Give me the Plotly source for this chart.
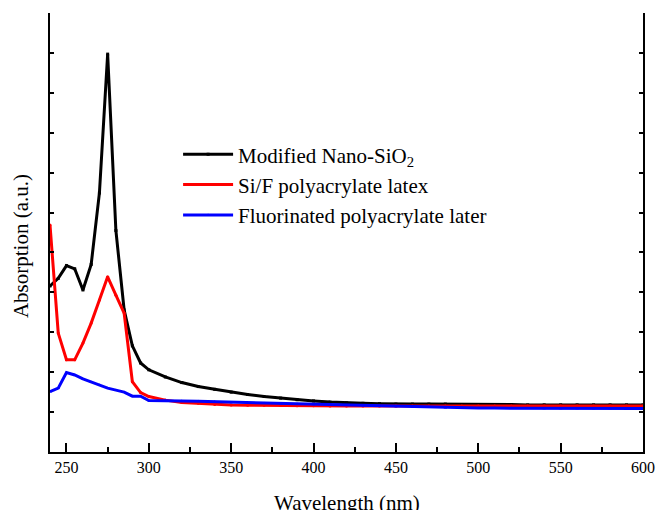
import plotly.graph_objects as go

wavelength = [240, 245, 250, 255, 260, 265, 270, 275, 280, 285, 290, 295, 300,
              310, 320, 330, 340, 350, 360, 370, 380, 390, 400, 410, 420, 430,
              440, 450, 460, 470, 480, 490, 500, 510, 520, 530, 540, 550, 560,
              570, 580, 590, 600]

nano_sio2 = [4.16, 4.35, 4.67, 4.59, 4.06, 4.70, 6.49, 9.97, 5.55, 3.56, 2.66, 2.23, 2.06,
             1.88, 1.74, 1.64, 1.57, 1.50, 1.44, 1.39, 1.35, 1.31, 1.28, 1.25, 1.23, 1.22,
             1.21, 1.20, 1.20, 1.20, 1.20, 1.19, 1.19, 1.19, 1.19, 1.18, 1.18, 1.18, 1.18,
             1.18, 1.18, 1.18, 1.18]

sif_latex = [5.69, 2.98, 2.31, 2.31, 2.73, 3.23, 3.81, 4.39, 3.93, 3.48, 1.76, 1.49, 1.39,
             1.30, 1.24, 1.22, 1.19, 1.18, 1.17, 1.17, 1.165, 1.16, 1.16, 1.155, 1.155, 1.15,
             1.15, 1.15, 1.15, 1.15, 1.15, 1.15, 1.15, 1.15, 1.15, 1.15, 1.15, 1.15, 1.15,
             1.15, 1.15, 1.15, 1.15]

fluor_latex = [1.51, 1.60, 1.99, 1.93, 1.83, 1.75, 1.68, 1.60, 1.55, 1.50, 1.40, 1.40, 1.29,
               1.29, 1.28, 1.27, 1.26, 1.24, 1.23, 1.22, 1.21, 1.20, 1.19, 1.18, 1.17, 1.16,
               1.15, 1.14, 1.13, 1.12, 1.11, 1.105, 1.10, 1.10, 1.10, 1.095, 1.09, 1.09, 1.09,
               1.09, 1.09, 1.09, 1.09]

names = ["Modified Nano-SiO<sub>2</sub>", "Si/F polyacrylate latex", "Fluorinated polyacrylate later"]
colors = ["#000000", "#ff0000", "#0000ff"]
symbols = ["square", "circle", "triangle-up"]
series = [nano_sio2, sif_latex, fluor_latex]

FONT = "Liberation Serif, Times New Roman, serif"

fig = go.Figure()
for name, col, sym, vals in zip(names, colors, symbols, series):
    fig.add_trace(go.Scatter(
        x=wavelength, y=vals, name=name, mode="lines+markers",
        line=dict(color=col, width=3),
        marker=dict(color=col, symbol=sym, size=3),
    ))

fig.update_layout(
    width=657, height=510, autosize=False,
    margin=dict(l=50, r=14, t=13, b=58),
    paper_bgcolor="white", plot_bgcolor="white",
    font=dict(family=FONT, color="black", size=16),
    showlegend=True,
    legend=dict(x=0.216, y=0.724, xanchor="left", yanchor="top",
                bgcolor="rgba(0,0,0,0)", font=dict(size=21, family=FONT),
                itemwidth=50, tracegroupgap=0),
    xaxis=dict(range=[240, 600], tickvals=[250, 300, 350, 400, 450, 500, 550, 600],
               ticks="inside", ticklen=9, tickwidth=1.5, tickcolor="black",
               minor=dict(tickvals=[275, 325, 375, 425, 475, 525, 575], ticks="inside",
                          ticklen=5, tickwidth=1.5, tickcolor="black"),
               showline=True, linecolor="black", linewidth=2, showgrid=False,
               zeroline=False, tickfont=dict(size=16, family=FONT), automargin=False),
    xaxis2=dict(range=[240, 600], overlaying="x", side="top",
                tickvals=[250, 275, 300, 325, 350, 375, 400, 425, 450, 475, 500, 525, 550, 575],
                ticks="inside", ticklen=3, tickwidth=1, tickcolor="black", automargin=False,
                showticklabels=False, showline=True, linecolor="black", linewidth=2,
                showgrid=False, zeroline=False),
    yaxis=dict(range=[0, 11], tickvals=[1, 2, 3, 4, 5, 6, 7, 8, 9, 10],
               ticks="inside", ticklen=4, tickwidth=1.5, tickcolor="black",
               showticklabels=False, showline=True, linecolor="black", linewidth=2,
               mirror="ticks", showgrid=False, zeroline=False, automargin=False),
    annotations=[
        dict(text="Absorption (a.u.)", xref="paper", yref="paper",
             x=0, y=0.469, xshift=-29, xanchor="center", yanchor="middle",
             textangle=-90, showarrow=False,
             font=dict(size=21, family=FONT, color="black")),
        dict(text="Wavelength (nm)", xref="paper", yref="paper",
             x=0.5, y=0, yshift=-51, xanchor="center", yanchor="middle",
             showarrow=False, font=dict(size=21, family=FONT, color="black")),
    ],
)

fig.write_html("out.html")
